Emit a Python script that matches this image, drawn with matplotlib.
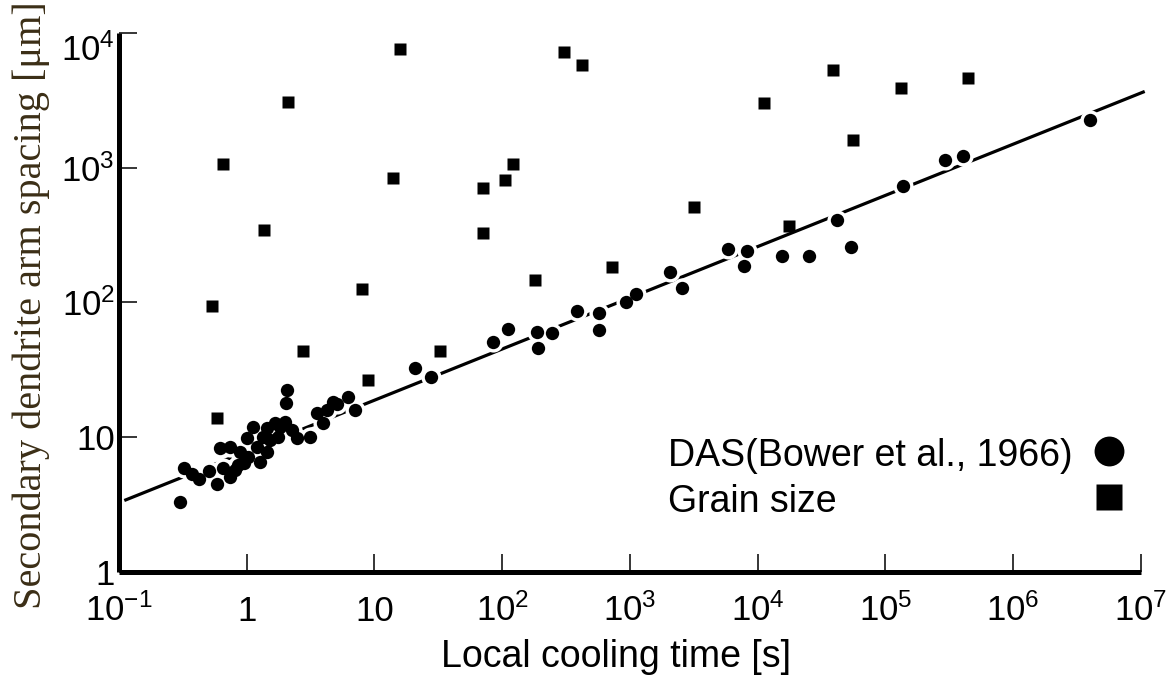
import matplotlib
matplotlib.use('Agg')
import matplotlib.pyplot as plt
import numpy as np

# ---------------- data ----------------
das_time = [0.30, 0.32, 0.37, 0.42, 0.51, 0.58, 0.62, 0.65, 0.74, 0.74,
            0.81, 0.86, 0.89, 0.95, 1.0, 1.02, 1.12, 1.2, 1.27, 1.34,
            1.44, 1.44, 1.52, 1.67, 1.76, 1.82, 2.0, 2.03, 2.07, 2.26,
            2.48, 3.13, 3.56, 3.96, 4.26, 4.74, 5.1, 6.2, 7.05, 20.8,
            27.7, 85, 111, 188, 191, 246, 386, 574, 574, 933,
            1120, 2070, 2570, 5880, 7840, 8280, 15600, 25300, 42000, 54000,
            138000, 294000, 406000, 4020000]
das_spacing = [3.31, 5.9, 5.3, 4.9, 5.6, 4.5, 8.3, 5.9, 8.5, 5.1,
               5.7, 6.2, 7.8, 6.4, 9.9, 7.1, 11.9, 8.5, 6.5, 10.0,
               7.8, 11.7, 9.5, 12.8, 10.0, 11.9, 13.0, 18.0, 22.4, 11.3,
               9.9, 10.0, 15.1, 12.8, 15.9, 18.3, 17.7, 19.9, 15.9, 32.6,
               28.0, 51, 64, 60, 46, 59, 87, 84, 62, 101,
               116, 168, 128, 249, 187, 241, 221, 221, 409, 258,
               732, 1141, 1222, 2261]

grain_time = [0.535, 0.585, 0.652, 1.365, 2.10, 2.76, 8.0, 8.9, 14.0, 15.9,
              32.6, 70.8, 70.8, 105, 122, 181, 305, 423, 726, 3184,
              11250, 17660, 39000, 56000, 133000, 445000]
grain_size = [94, 13.9, 1066, 345, 3076, 43.6, 126, 26.6, 839, 7610,
              43.6, 328, 708, 811, 1066, 147, 7230, 5790, 183, 511,
              3025, 370, 5310, 1607, 3908, 4634]

fit_coef = 7.85          # DAS = fit_coef * t ** fit_exp
fit_exp = 0.38
fit_time_range = [0.11, 1.07e7]

x_ticks = [1e-1, 1, 1e1, 1e2, 1e3, 1e4, 1e5, 1e6, 1e7]
x_tick_labels = [r'$\mathregular{10^{-1}}$', '1', '10', r'$\mathregular{10^{2}}$',
                 r'$\mathregular{10^{3}}$', r'$\mathregular{10^{4}}$',
                 r'$\mathregular{10^{5}}$', r'$\mathregular{10^{6}}$',
                 r'$\mathregular{10^{7}}$']
y_ticks = [1, 1e1, 1e2, 1e3, 1e4]
y_tick_labels = ['1', '10', r'$\mathregular{10^{2}}$', r'$\mathregular{10^{3}}$',
                 r'$\mathregular{10^{4}}$']

x_label = 'Local cooling time [s]'
y_label = 'Secondary dendrite arm spacing [\u03bcm]'
legend_labels = ['DAS(Bower et al., 1966)', 'Grain size']

# ---------------- style ----------------
plt.rcParams['font.family'] = ['Liberation Sans', 'DejaVu Sans']
plt.rcParams['mathtext.fontset'] = 'custom'
plt.rcParams['mathtext.rm'] = 'Liberation Sans'

fig = plt.figure(figsize=(11.76, 6.77), dpi=100)
fig.patch.set_facecolor('white')
ax = fig.add_axes([0.1012, 0.1551, 0.8690, 0.7962])

ax.set_xscale('log')
ax.set_yscale('log')
ax.set_xlim(1e-1, 1e7)
ax.set_ylim(1, 1e4)

# fit line
t_fit = np.logspace(np.log10(fit_time_range[0]), np.log10(fit_time_range[1]), 300)
ax.plot(t_fit, fit_coef * t_fit ** fit_exp, color='black', lw=2.3,
        solid_capstyle='butt', zorder=2, clip_on=False)

# white halos that cut the line around the circles, then the markers
ax.plot(das_time, das_spacing, 'o', ms=14.5, color='white', mec='none', zorder=3)
ax.plot(das_time, das_spacing, 'o', ms=9.6, color='black', mec='none', zorder=4)
ax.plot(grain_time, grain_size, 's', ms=9.2, color='black', mec='none', zorder=5)

# spines
for s in ['top', 'right']:
    ax.spines[s].set_visible(False)
for s in ['left', 'bottom']:
    ax.spines[s].set_linewidth(3.6)
    ax.spines[s].set_capstyle('butt')

ax.set_xticks(x_ticks, x_tick_labels)
ax.set_yticks(y_ticks, y_tick_labels)
ax.xaxis.set_minor_locator(matplotlib.ticker.NullLocator())
ax.yaxis.set_minor_locator(matplotlib.ticker.NullLocator())
ax.tick_params(which='major', direction='in', length=13, width=1.1, labelsize=25)
ax.tick_params(axis='x', pad=35)
ax.tick_params(axis='y', pad=3)
for lab in ax.get_xticklabels():
    lab.set_va('baseline')
ax.get_yticklabels()[-1].set_va('top')

ax.set_xlabel(x_label, fontsize=27)
ax.xaxis.set_label_coords(0.486, -0.124)
ax.set_ylabel(y_label, fontsize=29, family=['Liberation Serif', 'DejaVu Serif'],
              color='#3b2e16')
ax.yaxis.set_label_coords(-0.0675, 0.495)

# legend (labels left-aligned, symbols on the right)
ax.text(0.537, 0.1967, legend_labels[0], transform=ax.transAxes, fontsize=27,
        ha='left', va='baseline')
ax.text(0.537, 0.1113, legend_labels[1], transform=ax.transAxes, fontsize=27,
        ha='left', va='baseline')
ax.plot([0.9687], [0.2245], 'o', ms=21.5, color='black', mec='none',
        transform=ax.transAxes, clip_on=False)
ax.plot([0.9687], [0.139], 's', ms=18.5, color='black', mec='none',
        transform=ax.transAxes, clip_on=False)

fig.savefig('out.png', dpi=100, facecolor='white')
